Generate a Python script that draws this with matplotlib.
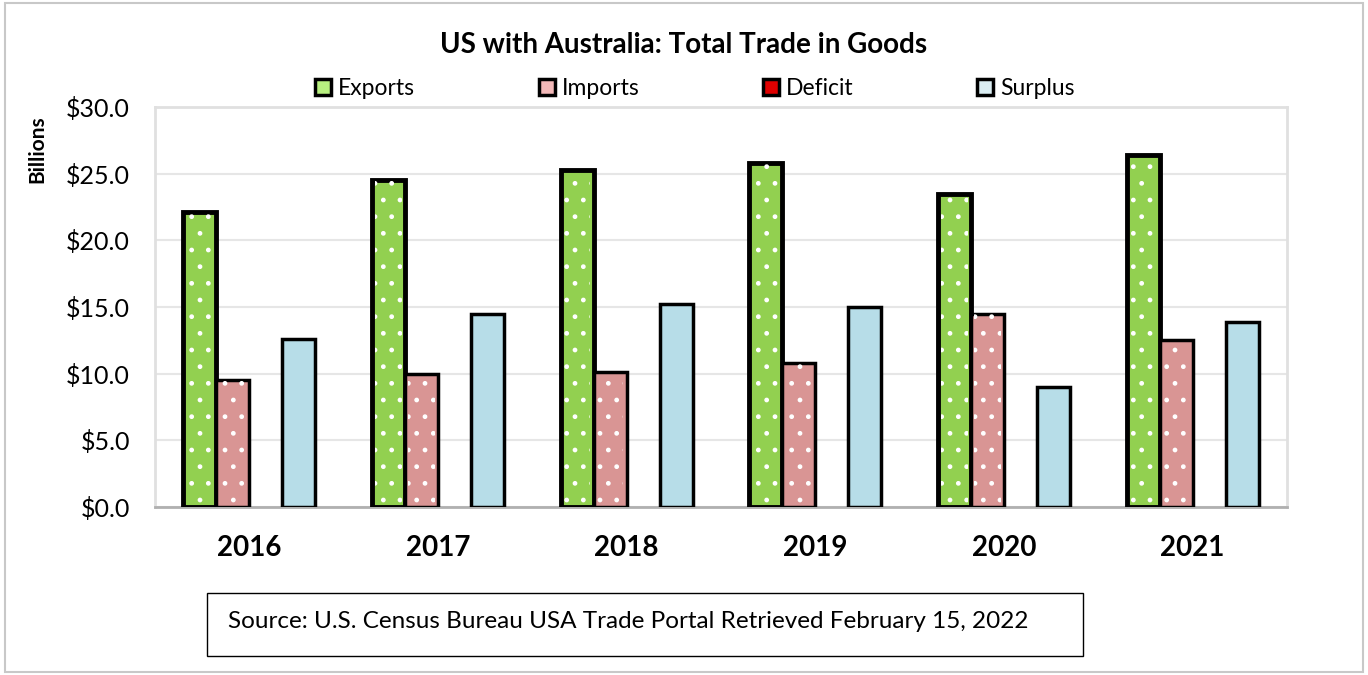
import numpy as np
import matplotlib.pyplot as plt
from matplotlib.patches import Rectangle, Patch

years = ['2016', '2017', '2018', '2019', '2020', '2021']
exports = [22.1, 24.5, 25.3, 25.8, 23.5, 26.4]
imports = [9.5, 10.0, 10.1, 10.8, 14.5, 12.5]
deficit = [0, 0, 0, 0, 0, 0]
surplus = [12.6, 14.5, 15.2, 15.0, 9.0, 13.9]

plt.rcParams['font.family'] = ['Lato', 'DejaVu Sans']

fig = plt.figure(figsize=(13.68, 6.75), dpi=100)
ax = fig.add_axes([0.1133, 0.2489, 0.8275, 0.5926])

x = np.arange(len(years))
w = 0.175
series = [
    (exports, '#92d050', True, 'Exports', '#b8f080'),
    (imports, '#d99594', True, 'Imports', '#f2b8b8'),
    (deficit, '#e00000', False, 'Deficit', '#e00000'),
    (surplus, '#b7dde8', False, 'Surplus', '#dbeef3'),
]
plt.rcParams['hatch.linewidth'] = 1.0
for i, (vals, col, dots, name, lcol) in enumerate(series):
    pos = x + (i - 1.5) * w
    lw = 3.5 if i == 0 else 2.5
    if name == 'Deficit':
        continue
    ax.bar(pos, vals, w, color=col, edgecolor='black', linewidth=lw, zorder=3)
    if dots:
        ax.bar(pos, vals, w * 0.8, color='none', edgecolor='white',
               hatch='.', linewidth=0, zorder=4)

ax.set_xlim(-0.5, len(years) - 0.5)
ax.set_ylim(0, 30)
ax.set_yticks(np.arange(0, 31, 5))
ax.set_yticklabels(['${:.1f}'.format(v) for v in np.arange(0, 31, 5)], fontsize=18)
ax.set_xticks(x)
ax.set_xticklabels(years, fontsize=20, fontweight='bold')
ax.tick_params(axis='both', length=0)
ax.tick_params(axis='x', pad=20)
ax.tick_params(axis='y', pad=18)
ax.grid(axis='y', color='#e6e6e6', linewidth=1.5, zorder=0)
for s in ['left', 'top', 'right']:
    ax.spines[s].set_color('#e0e0e0')
    ax.spines[s].set_linewidth(2)
ax.spines['bottom'].set_color('#b0b0b0')
ax.spines['bottom'].set_linewidth(2)
ax.set_ylabel('Billions', fontsize=15, fontweight='bold', labelpad=2)
ax.yaxis.set_label_coords(-0.095, 0.895)

fig.text(0.5, 0.933, 'US with Australia: Total Trade in Goods', ha='center',
         va='center', fontsize=20, fontweight='bold')

handles = [Patch(facecolor=lc, edgecolor='black', linewidth=2.5) for _, _, _, _, lc in series]
fig.legend(handles, [s[3] for s in series], loc='center', bbox_to_anchor=(0.508, 0.869),
           ncol=4, frameon=False, fontsize=16.5, columnspacing=5.4, handlelength=0.7,
           handleheight=0.7, handletextpad=0.3)

fig.patches.append(Rectangle((207 / 1368, 1 - 656 / 675), 876 / 1368, 63 / 675,
                             transform=fig.transFigure, fill=False,
                             edgecolor='black', linewidth=1))
fig.text(228 / 1368, 1 - 622 / 675,
         'Source: U.S. Census Bureau USA Trade Portal Retrieved February 15, 2022',
         ha='left', va='center', fontsize=17.5)
fig.patches.append(Rectangle((0.004, 0.004), 0.992, 0.992, transform=fig.transFigure,
                             fill=False, edgecolor='#c8c8c8', linewidth=1.5))

fig.savefig('out.png', dpi=100)
